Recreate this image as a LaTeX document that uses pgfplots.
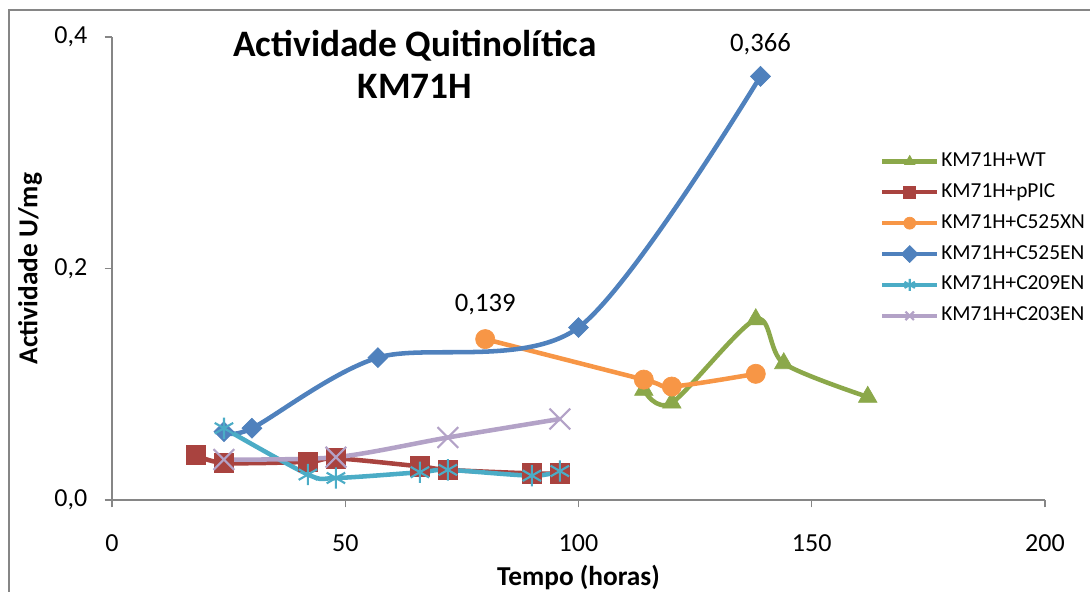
\documentclass[border=0pt]{standalone}
\usepackage{pgfplots}
\pgfplotsset{compat=1.18}
\usepackage{fontspec}
\setmainfont{Carlito}
\usetikzlibrary{calc}
\definecolor{cWT}{HTML}{8BA84A}
\definecolor{cPIC}{HTML}{A9433F}
\definecolor{cXN}{HTML}{F79646}
\definecolor{cEN}{HTML}{4F81BD}
\definecolor{cC209}{HTML}{4BACC6}
\definecolor{cC203}{HTML}{B3A2C7}
\definecolor{axgray}{HTML}{868686}
\begin{document}
\begin{tikzpicture}
\begin{axis}[name=ax, at={(0,0)}, anchor=south west,
  scale only axis, width=699.75pt, height=347.25pt,
  xmin=0, xmax=200, ymin=0, ymax=0.4,
  clip=false,
  axis lines*=left,
  axis line style={draw=axgray, line width=1.1pt},
  xtick={0,50,100,150,200}, ytick={0,0.2,0.4},
  tick align=outside, major tick length=5.5pt,
  tick style={draw=axgray, line width=1.1pt},
  /pgf/number format/assume math mode=true,
  tick label style={font=\fontsize{19.5}{23}\selectfont},
  yticklabel style={xshift=-9.5pt, /pgf/number format/.cd, fixed, fixed zerofill, precision=1, use comma},
  xticklabel style={yshift=-17pt},
  xlabel={\textbf{Tempo (horas)}},
  ylabel={\textbf{Actividade U/mg}},
  label style={font=\fontsize{20.5}{24}\selectfont},
  xlabel style={at={(axis description cs:0.5,0)}, anchor=center, yshift=-58.5pt},
  ylabel style={at={(axis description cs:0,0.5)}, anchor=center, yshift=61.5pt},
  every axis plot/.append style={line width=3.4pt, smooth, tension=0.5},
  legend cell align=left,
  legend style={at={(rel axis cs:0.823,0.757)}, anchor=north west, draw=none, fill=none,
    font=\fontsize{16}{19}\selectfont, inner sep=0pt, row sep=5.65pt,
    nodes={inner sep=1.5pt, text height=11pt, text depth=3.5pt}},
  legend image code/.code={\draw[mark repeat=2, mark phase=2, line width=3.2pt, #1, mark size=4.5pt]
    plot coordinates {(0pt,0pt) (20.6pt,0pt) (41.25pt,0pt)};},
]
\addplot[cWT, mark=triangle*, mark size=8pt, mark options={solid, fill=cWT, line width=0.5pt}]
  coordinates {(114,0.095) (120,0.084) (138,0.156) (144,0.118) (162,0.089)};
\addlegendentry{KM71H+WT}
\addplot[cPIC, mark=square*, mark size=7.3pt, mark options={solid, fill=cPIC, line width=0.5pt}]
  coordinates {(18,0.039) (24,0.032) (42,0.033) (48,0.036) (66,0.029) (72,0.026) (90,0.023) (96,0.023)};
\addlegendentry{KM71H+pPIC}
\addplot[cXN, mark=*, mark size=7.2pt, mark options={solid, fill=cXN, line width=0.5pt}]
  coordinates {(80,0.139) (114,0.104) (120,0.098) (138,0.109)};
\addlegendentry{KM71H+C525XN}
\addplot[cEN, mark=square*, mark size=5.3pt, mark options={solid, fill=cEN, rotate=45, line width=0.5pt}]
  coordinates {(24,0.059) (30,0.062) (57,0.123) (100,0.149) (139,0.366)};
\addlegendentry{KM71H+C525EN}
\addplot[cC209, mark=asterisk, mark size=8pt, mark options={solid, line width=1.6pt}]
  coordinates {(24,0.062) (42,0.022) (48,0.019) (66,0.024) (72,0.026) (90,0.021) (96,0.025)};
\addlegendentry{KM71H+C209EN}
\addplot[cC203, mark=x, mark size=11pt, mark options={solid, line width=1.6pt}]
  coordinates {(24,0.035) (48,0.037) (72,0.054) (96,0.070)};
\addlegendentry{KM71H+C203EN}
\node[font=\fontsize{20}{24}\selectfont] at (axis cs:80,0.139) [yshift=26pt] {0,139};
\node[font=\fontsize{20}{24}\selectfont] at (axis cs:139,0.366) [yshift=24pt] {0,366};
\node[font=\fontsize{28}{31.5}\selectfont\bfseries, align=center] at (axis description cs:0.3248,0.9417)
  {Actividade Quitinolítica\\KM71H};
\end{axis}
\pgfresetboundingbox
\path[use as bounding box] ($(ax.south west)+(-84pt,-69pt)$) rectangle ($(ax.south west)+(733.5pt,375pt)$);
\draw[axgray, line width=1.5pt] ($(ax.south west)+(-77.25pt,-80pt)$) -- ($(ax.south west)+(-77.25pt,367.5pt)$) -- ($(ax.south west)+(745pt,367.5pt)$);
\end{tikzpicture}
\end{document}
